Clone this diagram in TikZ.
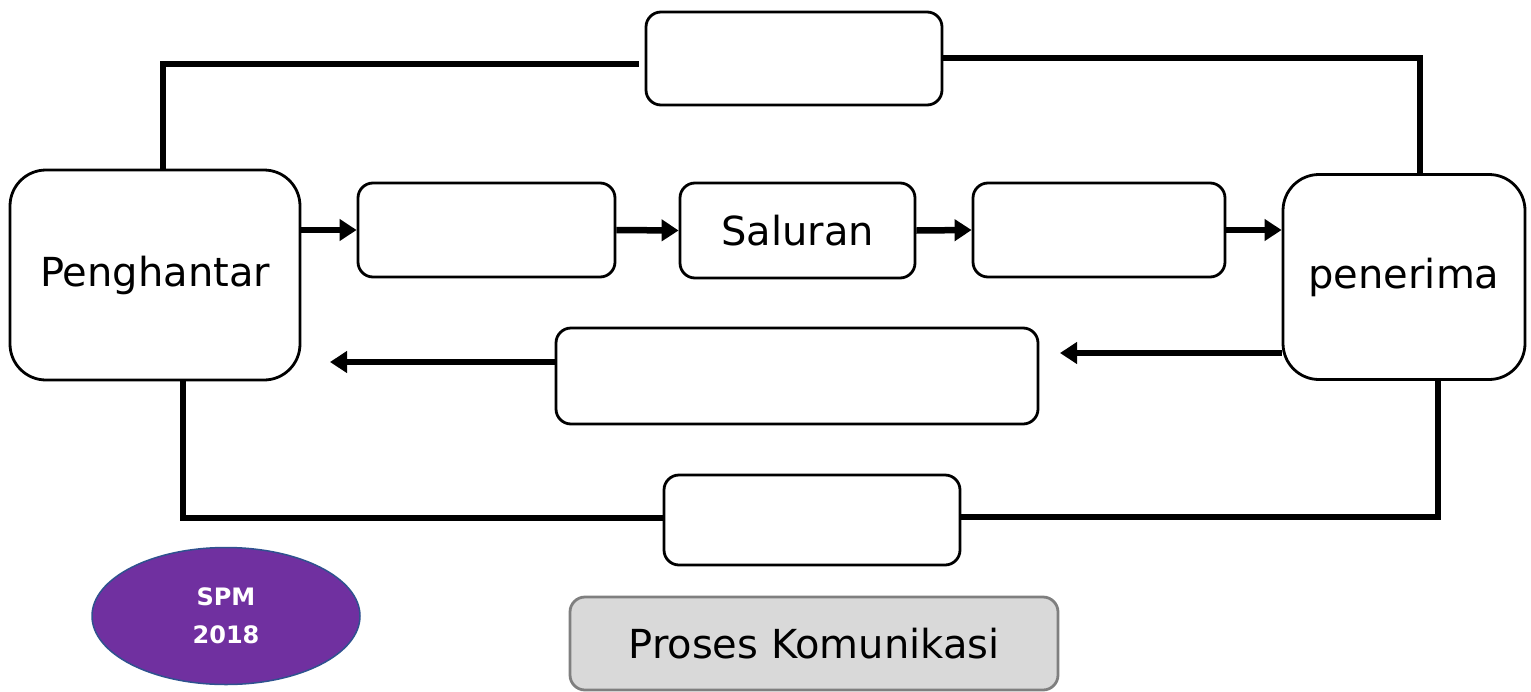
\documentclass[tikz,border=0pt]{standalone}
\usepackage{fontspec}
\setmainfont{DejaVu Sans}
\usetikzlibrary{shapes.geometric,arrows.meta,calc}
\definecolor{spmpurple}{HTML}{7030A0}
\definecolor{spmblue}{HTML}{2F528F}
\definecolor{lgray}{HTML}{D9D9D9}
\definecolor{dgray}{HTML}{7F7F7F}
\begin{document}
\begin{tikzpicture}[x=1pt,y=-1pt,
  box/.style={draw, line width=2.8pt, rounded corners=15pt, inner sep=0pt, font=\fontsize{40}{48}\selectfont},
  bigbox/.style={box, rounded corners=36pt},
  thickline/.style={line width=6.5pt},
  arr/.style={line width=6.5pt, -{Triangle[length=17pt,width=21pt]}}]
\useasboundingbox (0,0) rectangle (1531,691);
% nodes
\node[bigbox, minimum width=290pt, minimum height=210pt] (peng) at (155,275) {Penghantar};
\node[bigbox, minimum width=242pt, minimum height=205pt] (pen) at (1404,277) {penerima};
\node[box, minimum width=296pt, minimum height=93pt] (top) at (794,58.5) {};
\node[box, minimum width=257pt, minimum height=94pt] (b1) at (486.5,230) {};
\node[box, minimum width=235pt, minimum height=95pt] (sal) at (797.5,230.5) {Saluran};
\node[box, minimum width=252pt, minimum height=94pt] (b3) at (1099,230) {};
\node[box, minimum width=482pt, minimum height=96pt] (mid) at (797,376) {};
\node[box, minimum width=296pt, minimum height=90pt] (bot) at (812,520) {};
\node[box, draw=dgray, fill=lgray, minimum width=488pt, minimum height=93pt] (title) at (814,643.5) {Proses Komunikasi};
\node[ellipse, draw=spmblue, line width=1.5pt, fill=spmpurple, text=white, minimum width=268pt, minimum height=137pt, align=center, font=\bfseries\fontsize{24}{38}\selectfont] (spm) at (226,616) {SPM\\2018};
% top loop
\coordinate (tl) at (163,64);
\coordinate (tr) at (1420,58);
\draw[thickline] (peng.north -| tl) -- (tl) -- ([xshift=-6pt]top.west |- tl);
\draw[thickline] (top.east |- tr) -- (tr) -- (pen.north -| tr);
% bottom loop
\coordinate (bl) at (183,518);
\coordinate (br) at (1438,517);
\draw[thickline] (peng.south -| bl) -- (bl) -- (bot.west |- bl);
\draw[thickline] (bot.east |- br) -- (br) -- (pen.south -| br);
% forward arrows
\draw[arr] (b1.west -| peng.east) -- (b1.west);
\draw[arr] (b1.east) -- (sal.west);
\draw[arr] (sal.east) -- (b3.west);
\draw[arr] (b3.east) -- (b3.east -| pen.west);
% return arrows
\coordinate (r1) at (1060,353);
\coordinate (r2) at (330,362);
\draw[arr] (pen.west |- r1) -- (r1);
\draw[arr] (mid.west |- r2) -- (r2);
\end{tikzpicture}
\end{document}
